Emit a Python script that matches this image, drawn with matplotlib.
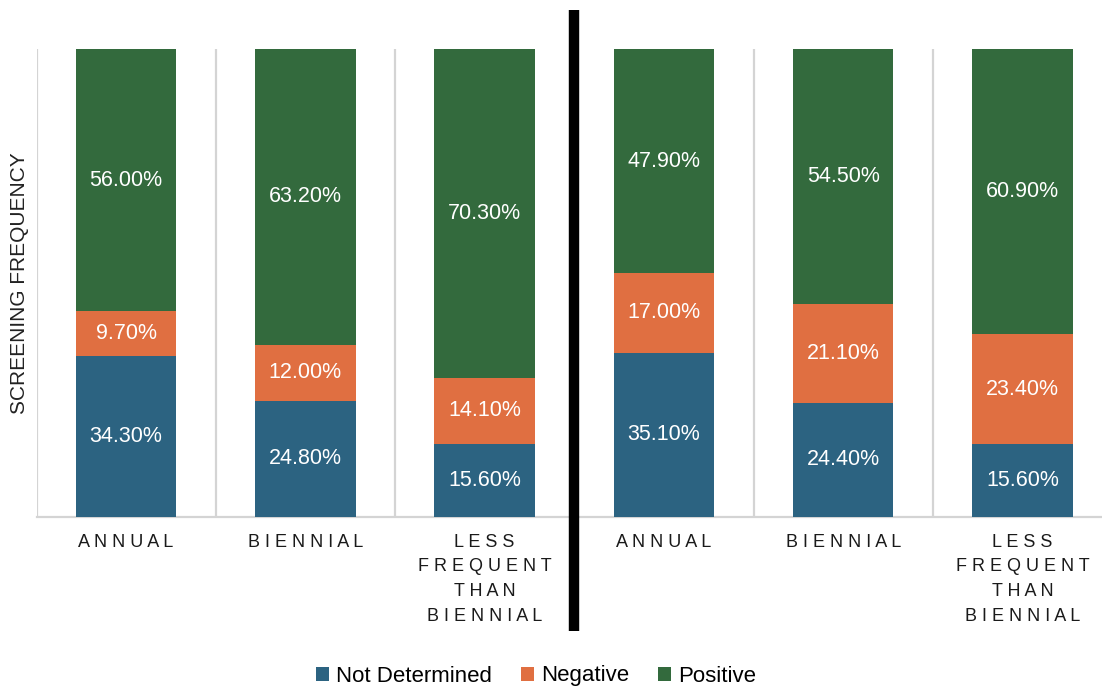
import matplotlib
matplotlib.use("Agg")
import matplotlib.pyplot as plt
import matplotlib.transforms as mtransforms
from matplotlib.patches import Patch
import numpy as np

# Screening frequency groups (two panels of three)
categories = ["ANNUAL", "BIENNIAL", "LESS\nFREQUENT\nTHAN\nBIENNIAL",
              "ANNUAL", "BIENNIAL", "LESS\nFREQUENT\nTHAN\nBIENNIAL"]
not_determined = [34.3, 24.8, 15.6, 35.1, 24.4, 15.6]
negative = [9.7, 12.0, 14.1, 17.0, 21.1, 23.4]
positive = [56.0, 63.2, 70.3, 47.9, 54.5, 60.9]
series_names = ["Not Determined", "Negative", "Positive"]
colors = ["#2C6381", "#E06F41", "#336A3D"]

plt.rcParams["font.family"] = ["Liberation Sans", "DejaVu Sans"]

W, H = 1102, 690
fig = plt.figure(figsize=(W / 100, H / 100), dpi=100)
ax = fig.add_axes([36.5 / W, 1 - 517 / H, (1112 - 36.5) / W, 468 / H])

x = np.arange(len(categories))
width = 0.56
bottom = np.zeros(len(categories))
for vals, name, col in zip([not_determined, negative, positive], series_names, colors):
    vals = np.array(vals)
    ax.bar(x, vals, width, bottom=bottom, color=col, label=name, zorder=3)
    for xi, b, v in zip(x, bottom, vals):
        ax.text(xi, b + v / 2, f"{v:.2f}%", ha="center", va="center",
                color="white", fontsize=15.5, zorder=4)
    bottom = bottom + vals

ax.set_xlim(-0.5, len(categories) - 0.5)
ax.set_ylim(0, 100)

# category separators
for b in np.arange(-0.5, len(categories), 1.0):
    ax.axvline(b, color="#d4d4d4", lw=1.6, zorder=1)

def spaced(label):
    return "\n".join(" ".join(line) for line in label.split("\n"))

ax.set_xticks(x)
ax.set_xticklabels([spaced(c) for c in categories], fontsize=13,
                   color="#1a1a1a", linespacing=1.6)
ax.tick_params(axis="x", length=0, pad=12)
ax.set_yticks([])

for s in ["top", "right", "left"]:
    ax.spines[s].set_visible(False)
ax.spines["bottom"].set_color("#d4d4d4")
ax.spines["bottom"].set_linewidth(1.6)

ax.set_ylabel("SCREENING FREQUENCY", fontsize=15, color="#222222")
ax.yaxis.set_label_coords(-0.007, 0.5)

# thick divider between the two panels
trans = mtransforms.blended_transform_factory(ax.transData, fig.transFigure)
ax.plot([2.5, 2.5], [1 - 10 / H, 1 - 631 / H], color="black", lw=7.5,
        solid_capstyle="butt", transform=trans, clip_on=False, zorder=5)

handles = [Patch(facecolor=c, label=n) for c, n in zip(colors, series_names)]
fig.legend(handles=handles, loc="center", bbox_to_anchor=(536 / W, 1 - 676 / H),
           ncol=3, frameon=False, fontsize=16, handlelength=0.6, handleheight=0.6,
           handletextpad=0.3, columnspacing=1.3)

fig.savefig("out.png", dpi=100)
